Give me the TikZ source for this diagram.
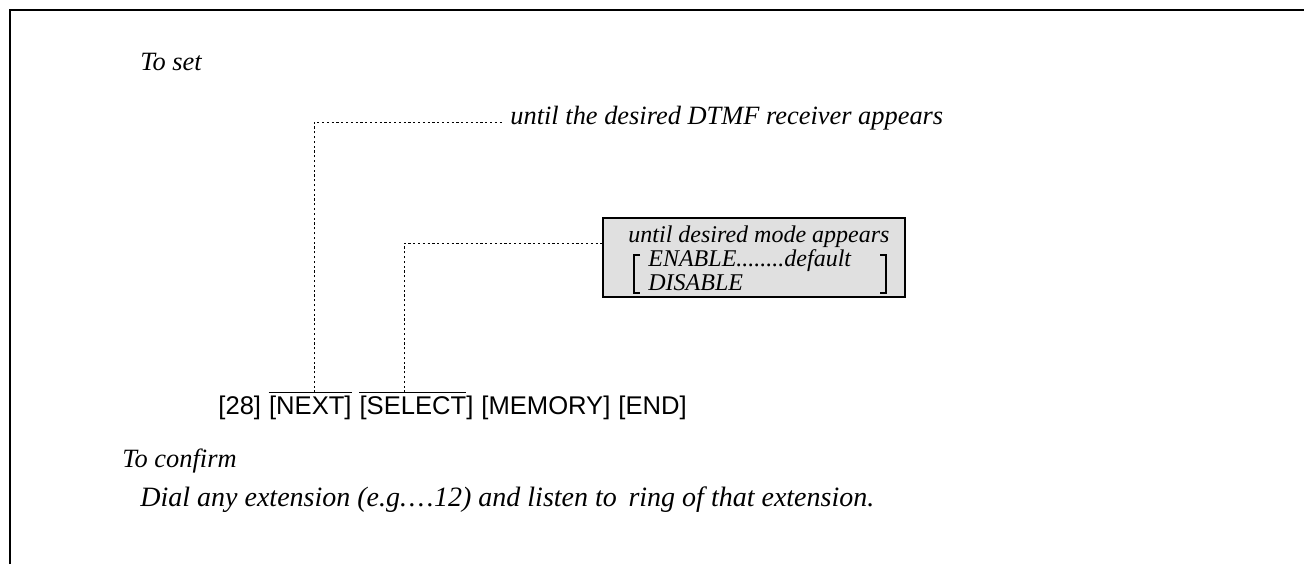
\documentclass[tikz,border=0pt]{standalone}
\usepackage{fontspec}
\setmainfont{Liberation Serif}
\setsansfont{Liberation Sans}
\usepackage{xcolor}
\usepackage{tikz}
\usetikzlibrary{positioning}
\definecolor{stipple}{RGB}{224,224,224}

\begin{document}
\begin{tikzpicture}[
      x=0.5pt, y=-0.5pt,
      lbl/.style={inner sep=0pt, anchor=west,
                  font=\fontsize{13.2}{15}\selectfont\itshape},
      boxlbl/.style={inner sep=0pt, anchor=west,
                  font=\fontsize{12}{14}\selectfont\itshape},
      key/.style={inner sep=0pt, font=\sffamily\fontsize{12.8}{15}\selectfont},
      modebox/.style={draw, fill=stipple, line width=0.7pt,
                  minimum width=151pt, minimum height=39.5pt, inner sep=0pt},
      lead/.style={line width=0.5pt, dash pattern=on 1.1pt off 1.3pt},
      frame/.style={line width=0.9pt}
    ]
    \useasboundingbox (0,0) rectangle (1304,564);
    \draw[frame] (10,564) -- (10,10) -- (1304,10);

    \node[lbl] (toset) at (140,62) {To set};
    \node[lbl] (dtmf)  at (510,118) {until the desired DTMF receiver appears};

    % mode box
    \node[modebox] (mode) at (754,257.5) {};
    \node[boxlbl] (modettl) at (628,237) {until desired mode appears};
    \node[boxlbl] (enable)  at (648,261) {ENABLE........default};
    \node[boxlbl] (disable) at (648,283) {DISABLE};
    \draw[line width=0.6pt] (640,255) -- (634,255) -- (634,293) -- (640,293);
    \draw[line width=0.6pt] (880,255) -- (886,255) -- (886,293) -- (880,293);

    % key sequence
    \node[key, anchor=west] (k28) at (218,408) {[28]};
    \node[key, right=3.6pt of k28] (next)   {[NEXT]};
    \node[key, right=3.6pt of next] (select) {[SELECT]};
    \node[key, right=3.6pt of select] (memory) {[MEMORY]};
    \node[key, right=3.6pt of memory] (end)   {[END]};
    \draw[line width=0.5pt] ([yshift=1.5pt]next.north west) -- ([yshift=1.5pt]next.north east);
    \draw[line width=0.5pt] ([yshift=1.5pt]select.north west) -- ([yshift=1.5pt,xshift=-4pt]select.north east);

    \draw[lead] ([yshift=1.5pt,xshift=2pt]next.north) |- ([xshift=-3pt,yshift=-2pt]dtmf.west);
    \draw[lead] ([yshift=1.5pt,xshift=-6pt]select.north) |- ([yshift=-3pt]mode.west |- modettl.west);

    \node[lbl] (confirm) at (122,461) {To confirm};
    \node[lbl, font=\fontsize{14}{16}\selectfont\itshape] (dial) at (140,500)
      {Dial any extension (e.g.\kern1pt.\kern1pt.\kern1pt.12) and listen to\, ring of that extension.};
  \end{tikzpicture}
\end{document}
